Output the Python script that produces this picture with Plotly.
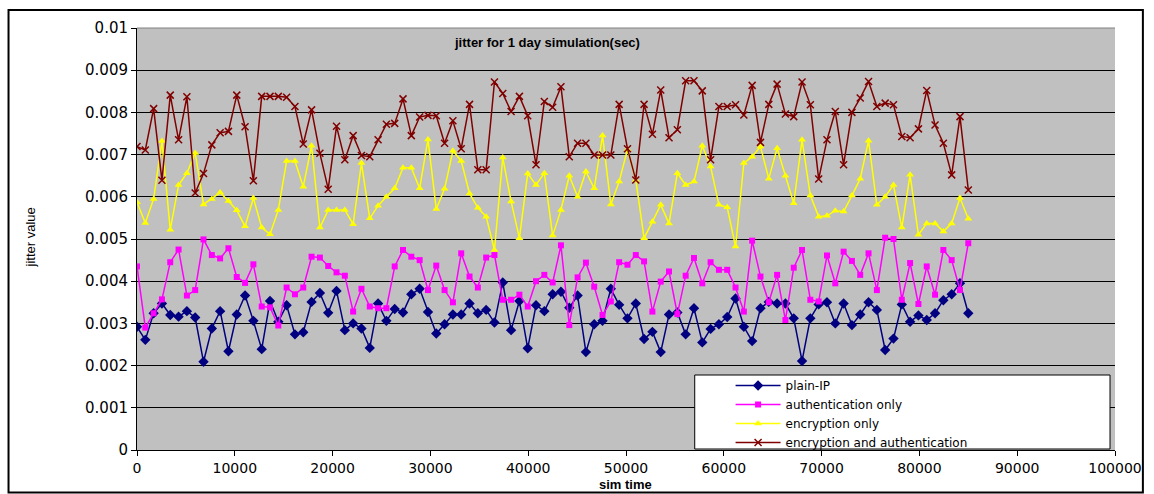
import plotly.graph_objects as go

# ---------------- data ----------------
sim_time = [0, 850, 1700, 2550, 3400, 4250, 5100, 5950, 6800, 7650,
            8500, 9350, 10200, 11050, 11900, 12750, 13600, 14450, 15300, 16150,
            17000, 17850, 18700, 19550, 20400, 21250, 22100, 22950, 23800, 24650,
            25500, 26350, 27200, 28050, 28900, 29750, 30600, 31450, 32300, 33150,
            34000, 34850, 35700, 36550, 37400, 38250, 39100, 39950, 40800, 41650,
            42500, 43350, 44200, 45050, 45900, 46750, 47600, 48450, 49300, 50150,
            51000, 51850, 52700, 53550, 54400, 55250, 56100, 56950, 57800, 58650,
            59500, 60350, 61200, 62050, 62900, 63750, 64600, 65450, 66300, 67150,
            68000, 68850, 69700, 70550, 71400, 72250, 73100, 73950, 74800, 75650,
            76500, 77350, 78200, 79050, 79900, 80750, 81600, 82450, 83300, 84150,
            85000]

plain_ip = [0.00292, 0.00261, 0.00324, 0.00347, 0.00320, 0.00316, 0.00329, 0.00314, 0.00209, 0.00288,
            0.00329, 0.00234, 0.00321, 0.00366, 0.00306, 0.00239, 0.00353, 0.00304, 0.00343, 0.00274,
            0.00279, 0.00351, 0.00372, 0.00325, 0.00377, 0.00284, 0.00300, 0.00288, 0.00242, 0.00347,
            0.00306, 0.00334, 0.00326, 0.00369, 0.00382, 0.00327, 0.00276, 0.00298, 0.00321, 0.00321,
            0.00347, 0.00324, 0.00332, 0.00302, 0.00397, 0.00284, 0.00353, 0.00241, 0.00343, 0.00329,
            0.00369, 0.00375, 0.00337, 0.00366, 0.00232, 0.00298, 0.00306, 0.00382, 0.00344, 0.00312,
            0.00347, 0.00263, 0.00280, 0.00232, 0.00321, 0.00326, 0.00274, 0.00336, 0.00255, 0.00287,
            0.00298, 0.00315, 0.00359, 0.00292, 0.00258, 0.00336, 0.00351, 0.00347, 0.00347, 0.00312,
            0.00211, 0.00312, 0.00345, 0.00350, 0.00300, 0.00347, 0.00296, 0.00321, 0.00350, 0.00332,
            0.00237, 0.00264, 0.00345, 0.00304, 0.00319, 0.00308, 0.00324, 0.00355, 0.00369, 0.00395,
            0.00324]

authentication_only = [0.00435, 0.00290, 0.00324, 0.00357, 0.00445, 0.00475, 0.00366, 0.00379, 0.00499, 0.00462,
                       0.00454, 0.00478, 0.00410, 0.00396, 0.00440, 0.00340, 0.00338, 0.00295, 0.00385, 0.00369,
                       0.00385, 0.00458, 0.00456, 0.00436, 0.00421, 0.00413, 0.00328, 0.00382, 0.00340, 0.00336,
                       0.00336, 0.00435, 0.00474, 0.00458, 0.00450, 0.00379, 0.00437, 0.00379, 0.00350, 0.00466,
                       0.00411, 0.00385, 0.00456, 0.00462, 0.00356, 0.00356, 0.00368, 0.00340, 0.00400, 0.00415,
                       0.00397, 0.00485, 0.00296, 0.00409, 0.00444, 0.00387, 0.00320, 0.00352, 0.00445, 0.00439,
                       0.00462, 0.00447, 0.00328, 0.00399, 0.00423, 0.00322, 0.00413, 0.00455, 0.00395, 0.00445,
                       0.00427, 0.00427, 0.00385, 0.00328, 0.00496, 0.00411, 0.00350, 0.00415, 0.00308, 0.00432,
                       0.00474, 0.00356, 0.00352, 0.00461, 0.00395, 0.00470, 0.00448, 0.00415, 0.00466, 0.00379,
                       0.00503, 0.00500, 0.00356, 0.00443, 0.00346, 0.00435, 0.00368, 0.00474, 0.00450, 0.00379,
                       0.00490]

encryption_only = [0.00587, 0.00538, 0.00595, 0.00732, 0.00522, 0.00628, 0.00656, 0.00704, 0.00582, 0.00595,
                   0.00610, 0.00590, 0.00568, 0.00530, 0.00597, 0.00527, 0.00511, 0.00569, 0.00685, 0.00685,
                   0.00624, 0.00721, 0.00527, 0.00569, 0.00569, 0.00569, 0.00535, 0.00680, 0.00549, 0.00579,
                   0.00600, 0.00620, 0.00669, 0.00669, 0.00620, 0.00736, 0.00571, 0.00619, 0.00709, 0.00685,
                   0.00608, 0.00574, 0.00553, 0.00474, 0.00693, 0.00589, 0.00502, 0.00655, 0.00628, 0.00656,
                   0.00508, 0.00569, 0.00650, 0.00600, 0.00660, 0.00620, 0.00745, 0.00582, 0.00636, 0.00712,
                   0.00640, 0.00502, 0.00541, 0.00581, 0.00537, 0.00656, 0.00628, 0.00636, 0.00721, 0.00672,
                   0.00581, 0.00575, 0.00482, 0.00680, 0.00695, 0.00719, 0.00643, 0.00715, 0.00650, 0.00585,
                   0.00735, 0.00603, 0.00553, 0.00555, 0.00567, 0.00565, 0.00603, 0.00643, 0.00733, 0.00581,
                   0.00600, 0.00628, 0.00527, 0.00652, 0.00510, 0.00537, 0.00537, 0.00518, 0.00537, 0.00597,
                   0.00548]

encryption_and_authentication = [0.00719, 0.00711, 0.00809, 0.00639, 0.00841, 0.00735, 0.00837, 0.00609, 0.00655, 0.00723,
                                 0.00752, 0.00755, 0.00841, 0.00766, 0.00638, 0.00838, 0.00838, 0.00838, 0.00836, 0.00814,
                                 0.00725, 0.00806, 0.00703, 0.00618, 0.00767, 0.00688, 0.00745, 0.00698, 0.00695, 0.00735,
                                 0.00772, 0.00774, 0.00832, 0.00745, 0.00789, 0.00793, 0.00792, 0.00727, 0.00780, 0.00714,
                                 0.00819, 0.00664, 0.00664, 0.00872, 0.00845, 0.00802, 0.00838, 0.00792, 0.00676, 0.00826,
                                 0.00812, 0.00861, 0.00695, 0.00727, 0.00727, 0.00699, 0.00699, 0.00699, 0.00819, 0.00714,
                                 0.00640, 0.00819, 0.00748, 0.00853, 0.00740, 0.00759, 0.00875, 0.00875, 0.00851, 0.00688,
                                 0.00814, 0.00814, 0.00818, 0.00794, 0.00864, 0.00729, 0.00819, 0.00867, 0.00796, 0.00790,
                                 0.00872, 0.00818, 0.00642, 0.00735, 0.00802, 0.00676, 0.00800, 0.00834, 0.00873, 0.00814,
                                 0.00822, 0.00818, 0.00743, 0.00740, 0.00761, 0.00852, 0.00770, 0.00727, 0.00652, 0.00790,
                                 0.00616]

series_names = ["plain-IP", "authentication only", "encryption only",
                "encryption and authentication"]

x_tick_values = [0, 10000, 20000, 30000, 40000, 50000, 60000, 70000, 80000, 90000, 100000]
x_tick_labels = ["0", "10000", "20000", "30000", "40000", "50000", "60000", "70000",
                 "80000", "90000", "100000"]
y_tick_values = [0, 0.001, 0.002, 0.003, 0.004, 0.005, 0.006, 0.007, 0.008, 0.009, 0.01]
y_tick_labels = ["0", "0.001", "0.002", "0.003", "0.004", "0.005", "0.006", "0.007",
                 "0.008", "0.009", "0.01"]

chart_title = "jitter for 1 day simulation(sec)"
x_title = "sim time"
y_title = "jitter value"

# ---------------- figure ----------------
W, H = 1154, 494
L, R, T, B = 137, 35, 28, 44
PW, PH = W - L - R, H - T - B


def px_x(p):
    return (p - L) / PW


def px_y(p):
    return (H - B - p) / PH


styles = [
    dict(color="#000080", symbol="diamond", size=8),
    dict(color="#FF00FF", symbol="square", size=6),
    dict(color="#FFFF00", symbol="triangle-up", size=7),
    dict(color="#800000", symbol="x-thin-open", size=7),
]
data = [plain_ip, authentication_only, encryption_only, encryption_and_authentication]

fig = go.Figure()
for name, vals, st in zip(series_names, data, styles):
    marker = dict(symbol=st["symbol"], size=st["size"], color=st["color"])
    if st["symbol"].endswith("open"):
        marker["line"] = dict(color=st["color"], width=1.5)
    else:
        marker["line"] = dict(width=0)
    fig.add_trace(go.Scatter(
        x=sim_time, y=vals, name=name, mode="lines+markers",
        line=dict(color=st["color"], width=1.5), marker=marker,
    ))

y_tick_font = dict(family="DejaVu Sans", size=15, color="black")
x_tick_font = dict(family="DejaVu Sans", size=14, color="black")

fig.update_layout(
    width=W, height=H,
    margin=dict(l=L, r=R, t=T, b=B),
    paper_bgcolor="white",
    plot_bgcolor="#C0C0C0",
    showlegend=True,
    legend=dict(
        x=px_x(733), y=px_y(371), xanchor="left", yanchor="top",
        bgcolor="rgba(0,0,0,0)", borderwidth=0,
        font=dict(family="DejaVu Sans", size=12, color="black"),
        tracegroupgap=0, itemwidth=45,
    ),
    xaxis=dict(
        range=[0, 100000], tickvals=x_tick_values, ticktext=x_tick_labels,
        ticks="outside", ticklen=5, tickcolor="black", tickwidth=1,
        showline=True, linecolor="black", linewidth=1,
        showgrid=False, zeroline=False, tickfont=x_tick_font,
    ),
    yaxis=dict(
        range=[0, 0.01], tickvals=y_tick_values, ticktext=y_tick_labels,
        ticks="outside", ticklen=5, tickcolor="black", tickwidth=1,
        showline=True, linecolor="black", linewidth=1,
        showgrid=True, gridcolor="black", gridwidth=1,
        zeroline=False, tickfont=y_tick_font,
    ),
    annotations=[
        dict(text="<b>" + chart_title + "</b>", xref="paper", yref="paper",
             x=px_x(549), y=px_y(42), xanchor="center", yanchor="middle",
             showarrow=False, font=dict(family="Liberation Sans", size=13, color="black")),
        dict(text="<b>" + x_title + "</b>", xref="paper", yref="paper",
             x=px_x(627), y=px_y(485), xanchor="center", yanchor="middle",
             showarrow=False, font=dict(family="Liberation Sans", size=13, color="black")),
        dict(text=y_title, xref="paper", yref="paper",
             x=px_x(31), y=px_y(237), xanchor="center", yanchor="middle", textangle=-90,
             showarrow=False, font=dict(family="Liberation Sans Narrow, Liberation Sans", size=13, color="black")),
    ],
    shapes=[
        # plot area top border (gray)
        dict(type="line", xref="paper", yref="paper", x0=0, x1=1, y0=1, y1=1,
             line=dict(color="#808080", width=1), layer="above"),
        # legend box
        dict(type="rect", xref="paper", yref="paper",
             x0=px_x(697), x1=px_x(1114), y0=px_y(449), y1=px_y(375),
             fillcolor="white", line=dict(color="black", width=1), layer="above"),
        # outer chart border
        dict(type="rect", xref="paper", yref="paper",
             x0=px_x(8), x1=px_x(1147), y0=px_y(492.5), y1=px_y(10),
             fillcolor="rgba(0,0,0,0)", line=dict(color="black", width=2), layer="above"),
    ],
)

fig.write_html("out.html")
